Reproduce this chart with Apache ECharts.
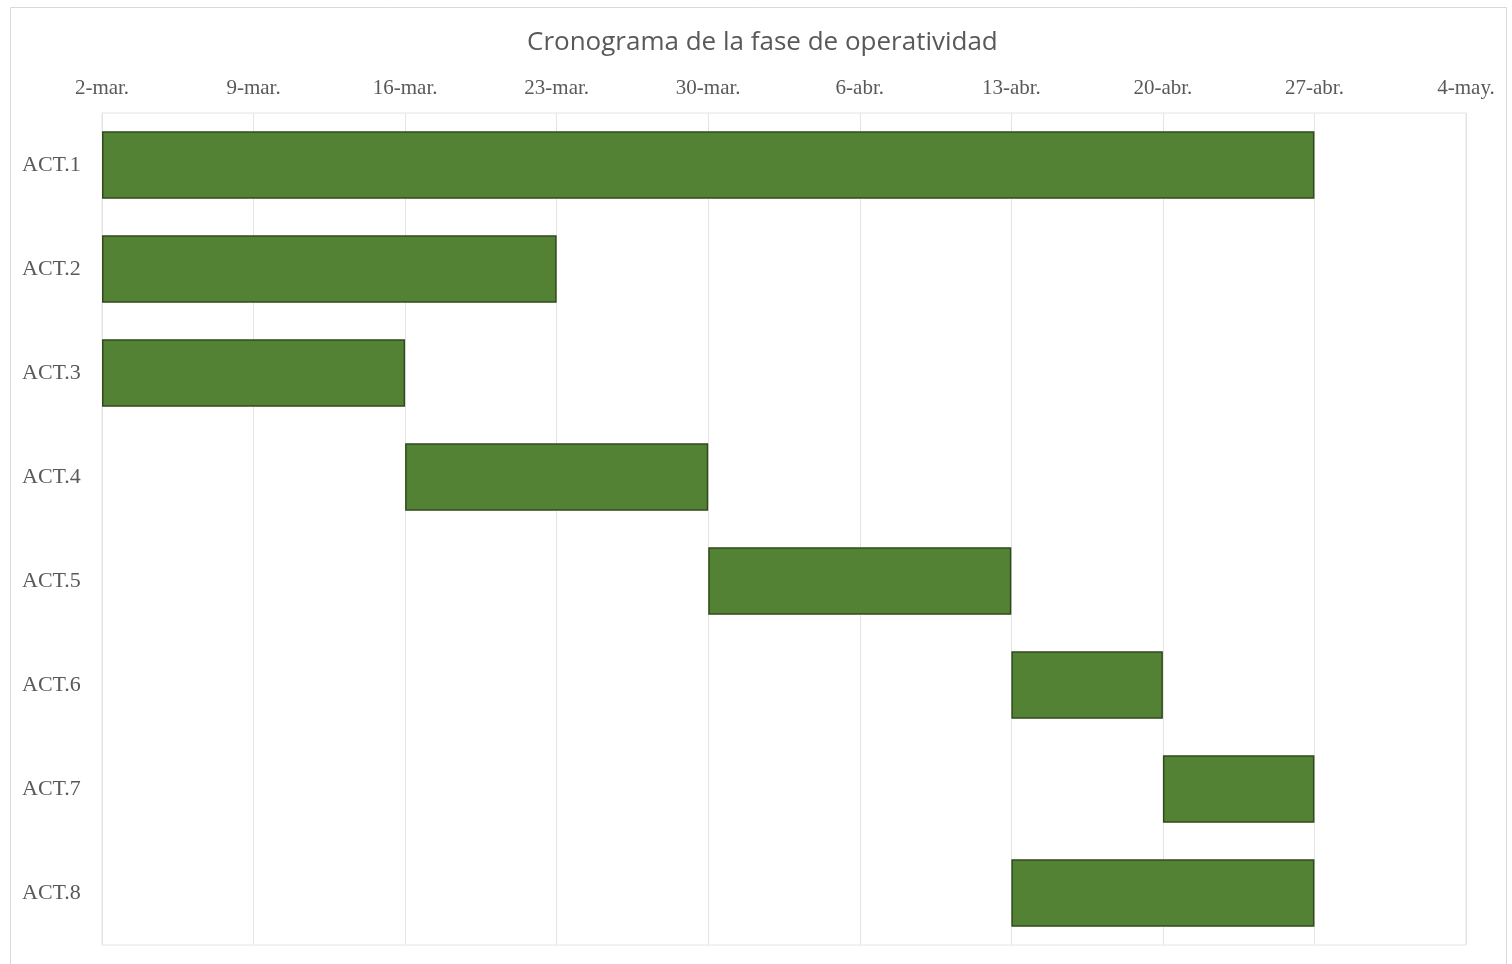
<!DOCTYPE html>
<html>
<head>
<meta charset="utf-8">
<script src="https://cdn.jsdelivr.net/npm/echarts@6/dist/echarts.min.js"></script>
<style>
html,body{margin:0;padding:0;background:#fff;}
#c{width:1512px;height:964px;}
</style>
</head>
<body>
<div id="c"></div>
<script>
const categories = ['ACT.1','ACT.2','ACT.3','ACT.4','ACT.5','ACT.6','ACT.7','ACT.8'];
// days since 2-mar
const startDays = [0, 0, 0, 14, 28, 42, 49, 42];
const durations = [56, 21, 14, 14, 14, 7, 7, 14];
const tickLabels = ['2-mar.','9-mar.','16-mar.','23-mar.','30-mar.','6-abr.','13-abr.','20-abr.','27-abr.','4-may.'];

const chart = echarts.init(document.getElementById('c'));
chart.setOption({
  animation: false,
  backgroundColor: '#fff',
  title: {
    text: 'Cronograma de la fase de operatividad',
    left: 522,
    top: 25,
    textStyle: {fontFamily: 'Open Sans', fontSize: 26, fontWeight: 'normal', color: '#595959'}
  },
  graphic: [{
    type: 'rect', left: 8, top: 5, silent: true,
    shape: {width: 1496, height: 957},
    style: {fill: 'none', stroke: '#d9d9d9', lineWidth: 1}
  }],
  grid: {left: 102, right: 46, top: 113, bottom: 19, show: true, borderColor: '#e4e4e4', borderWidth: 1},
  xAxis: {
    type: 'value', position: 'top', min: 0, max: 63, interval: 7,
    axisLine: {show: false}, axisTick: {show: false},
    splitLine: {lineStyle: {color: '#e4e4e4'}},
    axisLabel: {
      fontFamily: 'Liberation Serif', fontSize: 21, color: '#595959', margin: 14,
      formatter: v => tickLabels[Math.round(v / 7)]
    }
  },
  yAxis: {
    type: 'category', inverse: true, data: categories,
    axisLine: {show: false}, axisTick: {show: false},
    axisLabel: {fontFamily: 'Liberation Serif', fontSize: 22, color: '#595959', margin: 80, align: 'left', padding: [3, 0, 0, 0]}
  },
  series: [
    {type: 'bar', stack: 'g', data: startDays, itemStyle: {color: 'transparent'}, barWidth: '65%', silent: true},
    {type: 'bar', stack: 'g', data: durations, barWidth: '65%',
     itemStyle: {color: '#548235', borderColor: '#2f4a1c', borderWidth: 1.5}}
  ]
});
</script>
</body>
</html>
